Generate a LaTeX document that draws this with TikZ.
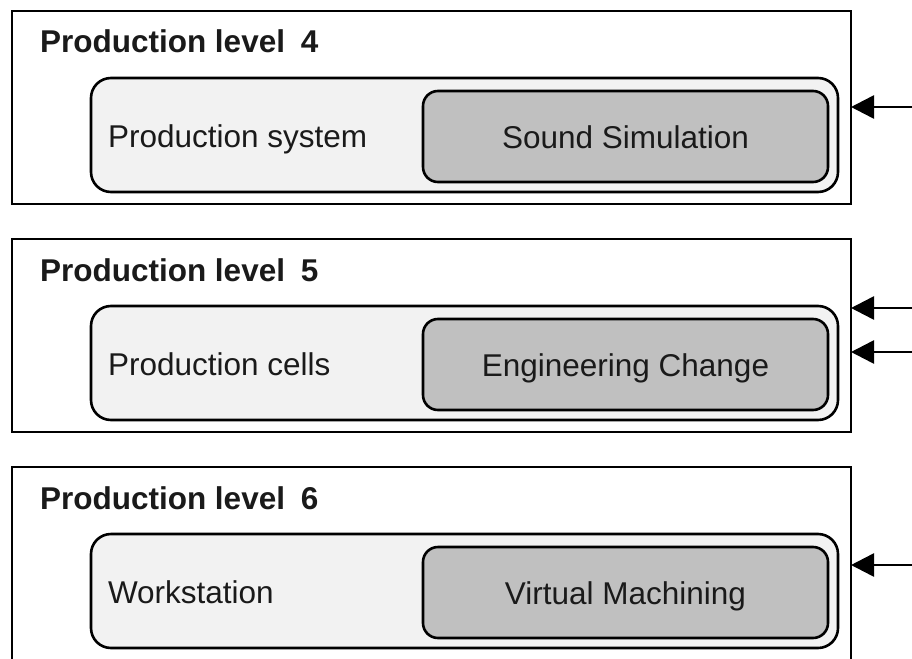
\documentclass[tikz,border=0pt]{standalone}
\usepackage{fontspec}
\setmainfont{Liberation Sans}
\usetikzlibrary{arrows.meta}
\definecolor{panelfill}{HTML}{F2F2F2}
\definecolor{toolfill}{HTML}{C0C0C0}
\definecolor{inktext}{HTML}{1A1A1A}
\begin{document}
\begin{tikzpicture}[x=1pt,y=-1pt,
  every node/.style={inner sep=0pt, outer sep=0pt, text=inktext},
  txt/.style={font=\fontsize{31.5}{36}\selectfont},
  levelbox/.style={draw=black, line width=2.6pt, fill=white, rectangle,
    minimum width=839pt, minimum height=193pt, anchor=north west},
  areabox/.style={draw=black, line width=2.6pt, fill=panelfill, rectangle,
    rounded corners=20pt, minimum width=747pt, minimum height=114pt, anchor=north west},
  toolbox/.style={draw=black, line width=2.6pt, fill=toolfill, rectangle,
    rounded corners=15pt, minimum width=405pt, minimum height=91pt, anchor=north west, txt,
    text height=23pt, text depth=0pt},
  leveltitle/.style={anchor=base west, txt, font=\fontsize{31.5}{36}\selectfont\bfseries},
  arealabel/.style={anchor=base west, txt},
  feed/.style={line width=2.6pt, -{Triangle[length=23pt, width=23pt]}}
]
\useasboundingbox (0,0) rectangle (912,658);

% three production levels, 228pt apart
\foreach \n/\top/\area/\tool in {4/11/Production system/Sound Simulation,
                                5/239/Production cells/Engineering Change,
                                6/467/Workstation/Virtual Machining}{
  \node[levelbox] (L\n) at (12,\top) {};
  \node[leveltitle] (T\n) at (40,\top+42) {Production level\hspace{0.5em}\n};
  \node[areabox] (A\n) at (91,\top+67) {};
  \node[toolbox] (S\n) at (423,\top+80) {\tool};
  \node[arealabel] (N\n) at (108,\top+136) {\area};
}

% incoming connectors from the right
\coordinate (in4) at (912,107);
\coordinate (in5a) at (912,308);
\coordinate (in5b) at (912,352);
\coordinate (in6) at (912,565);
\draw[feed] (in4) -- (in4 -| L4.east);
\draw[feed] (in5a) -- (in5a -| L5.east);
\draw[feed] (in5b) -- (in5b -| L5.east);
\draw[feed] (in6) -- (in6 -| L6.east);
\end{tikzpicture}
\end{document}
